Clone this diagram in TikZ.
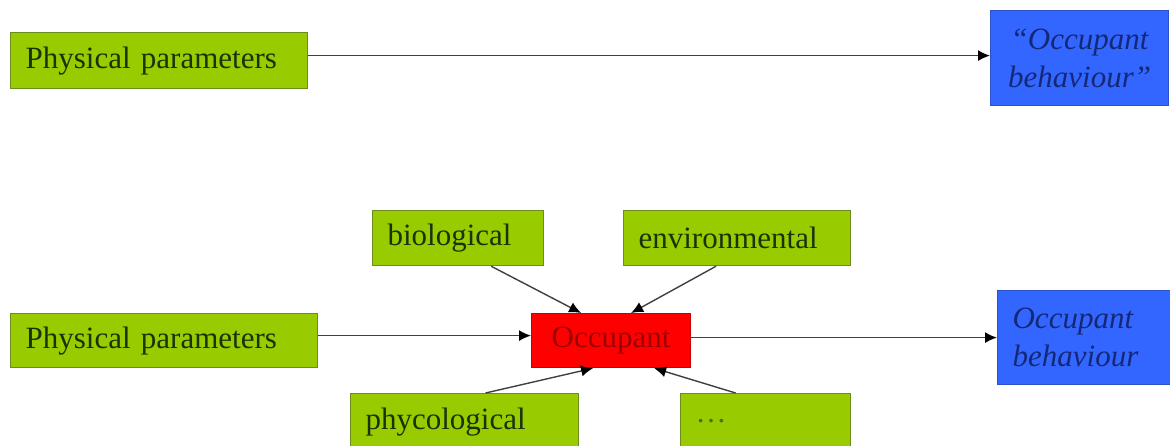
\documentclass[tikz,border=0pt]{standalone}
\usepackage{fontspec}
\setmainfont{Liberation Serif}
\usetikzlibrary{arrows.meta}
\definecolor{boxgreen}{HTML}{99CC00}
\definecolor{greenedge}{HTML}{6E8C1E}
\definecolor{greentext}{HTML}{1A3305}
\definecolor{boxblue}{HTML}{3366FF}
\definecolor{blueedge}{HTML}{2A52CC}
\definecolor{bluetext}{HTML}{142878}
\definecolor{boxred}{HTML}{FF0000}
\definecolor{redtext}{HTML}{9A0000}
\definecolor{linegray}{HTML}{404040}
\begin{document}
\begin{tikzpicture}[x=1pt,y=-1pt,
  base/.style={rectangle, anchor=north west, inner xsep=15pt, inner ysep=2pt,
    font=\rmfamily\fontsize{31}{37}\selectfont, line width=1.2pt},
  gbox/.style={base, fill=boxgreen, draw=greenedge, text=greentext, align=left},
  bbox/.style={base, fill=boxblue, draw=blueedge, text=bluetext,
    font=\rmfamily\fontsize{31}{38}\selectfont\itshape},
  rbox/.style={base, fill=boxred, draw=red!80!black, text=redtext, align=center},
  arr/.style={draw=linegray, line width=1.4pt, -{Latex[length=12pt,width=11pt,color=black]}}
]
\useasboundingbox (0,0) rectangle (1170,446);
\clip (0,0) rectangle (1170,446);
\fill[white] (0,0) rectangle (1170,446);

% top row
\node[gbox, text width=267pt, minimum height=56pt] (pp1) at (10,32) {Physical parameters};
\node[bbox, align=center, text width=148pt, minimum height=95pt] (beh1) at (990,10) {“Occupant\\behaviour”};

% bottom
\node[gbox, text width=141pt, minimum height=55pt] (bio) at (372,210) {biological};
\node[gbox, text width=197pt, minimum height=55pt] (env) at (623,210) {environmental};
\node[gbox, text width=277pt, minimum height=54pt] (pp2) at (10,313) {Physical parameters};
\node[rbox, text width=129pt, minimum height=54pt] (occ) at (531,313) {Occupant};
\node[bbox, align=left, text width=160pt, minimum height=94pt] (beh2) at (997,290) {Occupant\\behaviour};
\node[gbox, text width=198pt, minimum height=56pt] (phy) at (350,393) {phycological};
\node[gbox, text width=140pt, minimum height=56pt, text=greentext!60!boxgreen] (dots) at (680,393) {\ldots};

% connectors
\draw[arr] ([yshift=5pt]pp1.east) -- ([yshift=5pt]pp1.east -| beh1.west);
\draw[arr] ([yshift=5pt]pp2.east) -- ([yshift=5pt]pp2.east -| occ.west);
\draw[arr] ([yshift=3pt]occ.east) -- ([yshift=3pt]occ.east -| beh2.west);
\draw[arr] ([xshift=33pt]bio.south) -- ([xshift=-30pt]occ.north);
\draw[arr] ([xshift=-21pt]env.south) -- ([xshift=20pt]occ.north);
\draw[arr] ([xshift=21pt]phy.north) -- ([xshift=-18pt]occ.south);
\draw[arr] ([xshift=-30pt]dots.north) -- ([xshift=43pt]occ.south);
\end{tikzpicture}
\end{document}
